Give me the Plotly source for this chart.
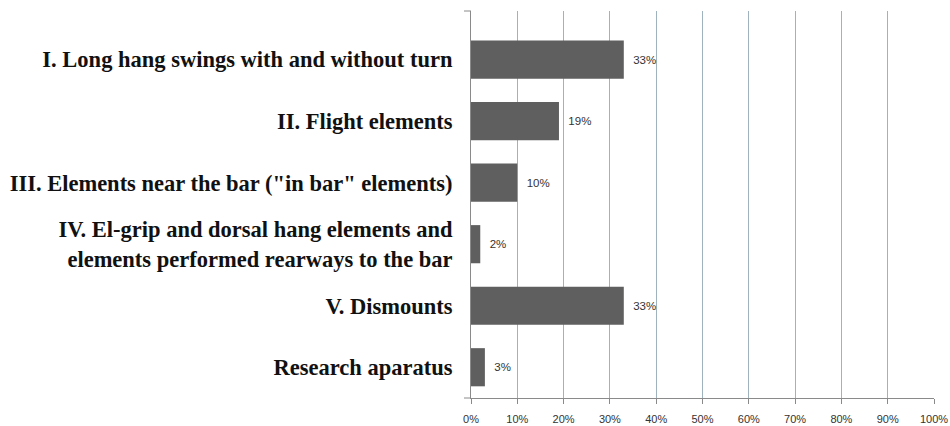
import plotly.graph_objects as go

categories = [
    "I. Long hang swings with and without turn",
    "II. Flight elements",
    "III. Elements near the bar (\"in bar\" elements)",
    "IV. El-grip and dorsal hang elements and<br>elements performed rearways to the bar",
    "V. Dismounts",
    "Research aparatus",
]
values = [33, 19, 10, 2, 33, 3]
x_ticks = [0, 10, 20, 30, 40, 50, 60, 70, 80, 90, 100]
x_tick_labels = [f"{v}%" for v in x_ticks]

W, H = 950, 426
ml, mr, mt, mb = 471, 16, 11, 28
pw = W - ml - mr
ph = H - mt - mb

fig = go.Figure()
fig.add_trace(go.Bar(
    x=values,
    y=categories,
    orientation="h",
    marker=dict(color="#5f5f5f", line=dict(width=0)),
    text=[f"\u00a0\u00a0{v}%" for v in values],
    textposition="outside",
    textfont=dict(family="Liberation Sans, Arial, sans-serif", size=11.5, color="#333333"),
    cliponaxis=False,
    hoverinfo="skip",
))

grid_col = "#9fb3bf"
axis_col = "#8a8a8a"

fig.update_layout(
    width=W, height=H,
    margin=dict(l=ml, r=mr, t=mt, b=mb, pad=0, autoexpand=False),
    paper_bgcolor="white",
    plot_bgcolor="white",
    showlegend=False,
    bargap=0.38,
    xaxis=dict(
        range=[0, 100],
        tickvals=x_ticks,
        ticktext=x_tick_labels,
        showgrid=True,
        gridcolor=grid_col,
        gridwidth=1,
        zeroline=False,
        showline=True,
        linecolor=axis_col,
        linewidth=1,
        ticks="outside",
        ticklen=5,
        tickcolor=axis_col,
        ticklabelstandoff=6,
        automargin=False,
        tickfont=dict(family="Liberation Sans, Arial, sans-serif", size=11, color="#333333"),
        fixedrange=True,
    ),
    yaxis=dict(
        type="category",
        range=[5.5, -0.79],
        showgrid=False,
        zeroline=False,
        showline=True,
        linecolor=axis_col,
        linewidth=1,
        ticks="",
        ticklabelstandoff=13,
        automargin=False,
        tickfont=dict(family="Liberation Serif, Times New Roman, serif", size=22.5,
                      color="#111111", weight="bold"),
        fixedrange=True,
    ),
    shapes=[
        dict(type="line", xref="paper", yref="paper",
             x0=-7 / pw, x1=0, y0=0, y1=0,
             line=dict(color=axis_col, width=1)),
        dict(type="line", xref="paper", yref="paper",
             x0=-7 / pw, x1=0, y0=1, y1=1,
             line=dict(color=axis_col, width=1)),
    ],
)

fig.write_html(
    "out.html",
    config={"displayModeBar": False},
    post_script="document.body.style.margin='0';document.body.style.overflow='hidden';",
)
